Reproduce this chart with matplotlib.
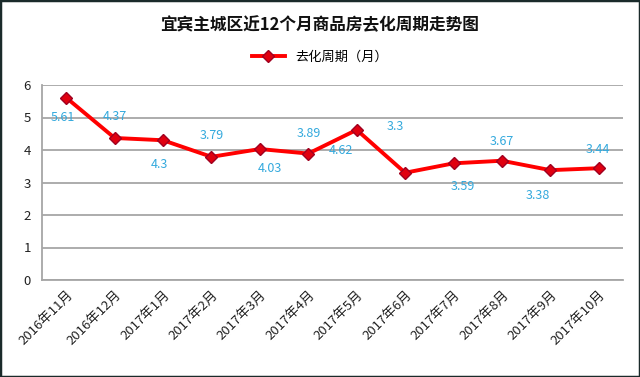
import matplotlib
matplotlib.use("Agg")
import matplotlib.pyplot as plt
from matplotlib.patches import Rectangle

plt.rcParams['font.family'] = ['Noto Sans CJK SC', 'DejaVu Sans']

months = ["2016年11月", "2016年12月", "2017年1月", "2017年2月", "2017年3月", "2017年4月",
          "2017年5月", "2017年6月", "2017年7月", "2017年8月", "2017年9月", "2017年10月"]
values = [5.61, 4.37, 4.3, 3.79, 4.03, 3.89, 4.62, 3.3, 3.59, 3.67, 3.38, 3.44]
label_offsets = [(-3, -20), (0, 21), (-4, -24), (0, 21), (10, -19), (0, 20),
                 (-16, -21), (-10, 46), (9, -23), (0, 19), (-13, -25), (-1, 19)]

fig = plt.figure(figsize=(6.4, 3.77), dpi=100)
ax = fig.add_axes([42 / 640, 1 - 280 / 377, 581 / 640, 195 / 377])

x = list(range(len(months)))
ax.plot(x, values, color="#ff0000", lw=2.8, marker="D", ms=6,
        mfc="#e00010", mec="#a00020", mew=1, label="去化周期（月）", zorder=3)

for xi, v, (dx, dy) in zip(x, values, label_offsets):
    ax.annotate(f"{v:g}", (xi, v), xytext=(dx, dy), textcoords="offset pixels",
                ha="center", va="center", fontsize=9, color="#33a9dd")

ax.set_xlim(-0.5, len(months) - 0.5)
ax.set_ylim(0, 6)
ax.set_yticks(range(0, 7))
ax.yaxis.grid(True, color="#a6a6a6", lw=1.3)
ax.set_axisbelow(True)
for s in ("top", "right"):
    ax.spines[s].set_visible(False)
for s in ("left", "bottom"):
    ax.spines[s].set_color("#a6a6a6")
    ax.spines[s].set_linewidth(1.3)
ax.tick_params(length=0, labelsize=9.5, colors="#222222", pad=8)
ax.set_xticks(x)
ax.set_xticklabels(months, rotation=45, ha="right", rotation_mode="anchor", fontsize=9.5)
ax.tick_params(axis="x", pad=6)

fig.text(0.5, 1 - 25 / 377, "宜宾主城区近12个月商品房去化周期走势图", ha="center", va="center",
         fontsize=12, fontweight="bold", color="#111111")
fig.legend(loc="center", bbox_to_anchor=(0.5, 1 - 57 / 377), frameon=False,
           fontsize=9.5, handlelength=2.5)

fig.patches.append(Rectangle((0, 0), 1, 1, transform=fig.transFigure, fill=False,
                             edgecolor="#1a2a2a", lw=2.5))

fig.savefig("out.png", dpi=100)
